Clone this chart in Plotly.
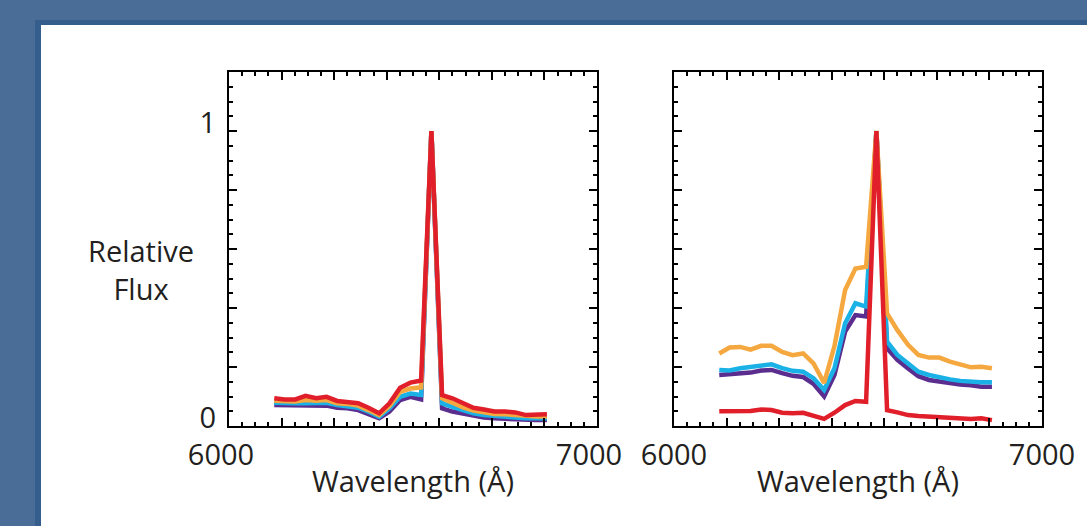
import plotly.graph_objects as go

# ---------------- data ----------------
wavelength = [6123, 6151, 6180, 6208, 6237, 6265, 6294, 6322, 6351, 6379,
              6408, 6436, 6465, 6493, 6522, 6550, 6579, 6607, 6636, 6664,
              6693, 6721, 6750, 6778, 6807, 6835, 6864]

# left panel
left_red = [0.094, 0.090, 0.090, 0.102, 0.094, 0.099, 0.085, 0.082, 0.077, 0.062,
            0.043, 0.077, 0.130, 0.147, 0.154, 1.000, 0.105, 0.094, 0.077, 0.062,
            0.056, 0.049, 0.049, 0.046, 0.037, 0.040, 0.040]
left_orange = [0.086, 0.083, 0.083, 0.088, 0.086, 0.088, 0.077, 0.075, 0.069, 0.054,
               0.037, 0.068, 0.116, 0.127, 0.131, 1.000, 0.094, 0.079, 0.063, 0.052,
               0.045, 0.041, 0.040, 0.037, 0.032, 0.032, 0.032]
left_cyan = [0.079, 0.077, 0.077, 0.077, 0.077, 0.079, 0.071, 0.068, 0.062, 0.049,
             0.031, 0.060, 0.099, 0.110, 0.105, 1.000, 0.077, 0.065, 0.052, 0.043,
             0.037, 0.034, 0.032, 0.029, 0.026, 0.026, 0.026]
left_purple = [0.071, 0.070, 0.069, 0.068, 0.070, 0.069, 0.062, 0.060, 0.054, 0.041,
               0.026, 0.049, 0.088, 0.099, 0.090, 1.000, 0.060, 0.049, 0.041, 0.034,
               0.029, 0.026, 0.024, 0.023, 0.020, 0.020, 0.020]

# right panel
right_orange = [0.246, 0.266, 0.268, 0.259, 0.272, 0.272, 0.251, 0.240, 0.246, 0.212,
                0.146, 0.271, 0.461, 0.534, 0.540, 1.000, 0.382, 0.325, 0.275, 0.241,
                0.232, 0.232, 0.218, 0.210, 0.199, 0.201, 0.196]
right_cyan = [0.190, 0.188, 0.196, 0.201, 0.203, 0.209, 0.196, 0.187, 0.184, 0.162,
              0.122, 0.196, 0.348, 0.416, 0.405, 1.000, 0.286, 0.241, 0.212, 0.184,
              0.173, 0.165, 0.158, 0.153, 0.150, 0.148, 0.148]
right_purple = [0.173, 0.175, 0.179, 0.181, 0.188, 0.190, 0.179, 0.170, 0.166, 0.143,
                0.100, 0.173, 0.320, 0.376, 0.371, 1.000, 0.263, 0.224, 0.195, 0.169,
                0.156, 0.150, 0.145, 0.141, 0.138, 0.133, 0.133]
right_red = [0.050, 0.050, 0.050, 0.051, 0.056, 0.054, 0.045, 0.043, 0.045, 0.034,
             0.024, 0.045, 0.071, 0.085, 0.082, 1.000, 0.054, 0.046, 0.037, 0.034,
             0.032, 0.028, 0.026, 0.024, 0.024, 0.026, 0.020]

x_ticks = [6000, 6142.857, 6285.714, 6428.571, 6571.429, 6714.286, 6857.143, 7000]
x_ticktext = ["6000", "", "", "", "", "", "", "7000"]
y_ticks = [0, 0.2, 0.4, 0.6, 0.8, 1.0, 1.2]
y_ticktext = ["0", "", "", "", "", "1", ""]

colors = {"purple": "#5b2d8e", "cyan": "#1ab1e6", "orange": "#f5a83f", "red": "#e11f2a"}
W, H = 1087, 526
FONT = "Open Sans"
TXT = "#231f20"

fig = go.Figure()

panels = [
    ("x", "y", [("purple", left_purple), ("cyan", left_cyan), ("orange", left_orange), ("red", left_red)]),
    ("x2", "y2", [("purple", right_purple), ("cyan", right_cyan), ("orange", right_orange), ("red", right_red)]),
]
for xa, ya, series in panels:
    for name, vals in series:
        fig.add_trace(go.Scatter(x=wavelength, y=vals, mode="lines", xaxis=xa, yaxis=ya,
                                 line=dict(color=colors[name], width=4.5), showlegend=False,
                                 hoverinfo="skip"))

def xaxis(domain, anchor, shift):
    return dict(domain=domain, range=[6000, 7000], anchor=anchor, automargin=False,
                tickmode="array", tickvals=x_ticks,
                ticktext=x_ticktext, ticks="inside", ticklen=8, tickwidth=2, tickcolor="black",
                showline=True, linewidth=2, linecolor="black", mirror="ticks",
                showgrid=False, zeroline=False,
                minor=dict(tickmode="linear", tick0=6000, dtick=1000 / 28, ticks="inside",
                           ticklen=4, tickwidth=2, tickcolor="black", showgrid=False),
                tickfont=dict(family=FONT, size=29, color=TXT),
                ticklabelstandoff=2, ticklabelshift=shift,
                title=dict(text="Wavelength (Å)", font=dict(family=FONT, size=29, color=TXT),
                           standoff=0))

def yaxis(anchor, labels):
    return dict(domain=[100 / H, 454 / H], range=[0, 1.2], anchor=anchor, automargin=False,
                tickmode="array", tickvals=y_ticks,
                ticktext=y_ticktext if labels else [""] * len(y_ticks),
                ticks="inside", ticklen=8, tickwidth=2, tickcolor="black",
                showline=True, linewidth=2, linecolor="black", mirror="ticks",
                showgrid=False, zeroline=False,
                minor=dict(tickmode="linear", tick0=0, dtick=0.05, ticks="inside",
                           ticklen=4, tickwidth=2, tickcolor="black", showgrid=False),
                tickfont=dict(family=FONT, size=29, color=TXT),
                ticklabelstandoff=5, ticklabelshift=-8)

fig.update_layout(
    width=W, height=H, margin=dict(l=0, r=0, t=0, b=0, autoexpand=False),
    paper_bgcolor="#4a6d98", plot_bgcolor="rgba(0,0,0,0)",
    xaxis=xaxis([229 / W, 597 / W], "y", -8),
    yaxis=yaxis("x", True),
    xaxis2=xaxis([674 / W, 1042 / W], "y2", 0),
    yaxis2=yaxis("x2", False),
    shapes=[
        dict(type="rect", xref="paper", yref="paper", x0=35 / W, x1=1.01, y0=-0.01, y1=(H - 20) / H,
             fillcolor="#355e8d", line=dict(width=0), layer="below"),
        dict(type="rect", xref="paper", yref="paper", x0=41 / W, x1=1.01, y0=-0.01, y1=(H - 25) / H,
             fillcolor="white", line=dict(width=0), layer="below"),
    ],
    annotations=[
        dict(text="Relative<br>Flux", xref="paper", yref="paper", x=141 / W, y=1 - 269 / H,
             xanchor="center", yanchor="middle", showarrow=False, align="center",
             font=dict(family=FONT, size=29, color=TXT)),
    ],
)

fig.write_html("out.html")
